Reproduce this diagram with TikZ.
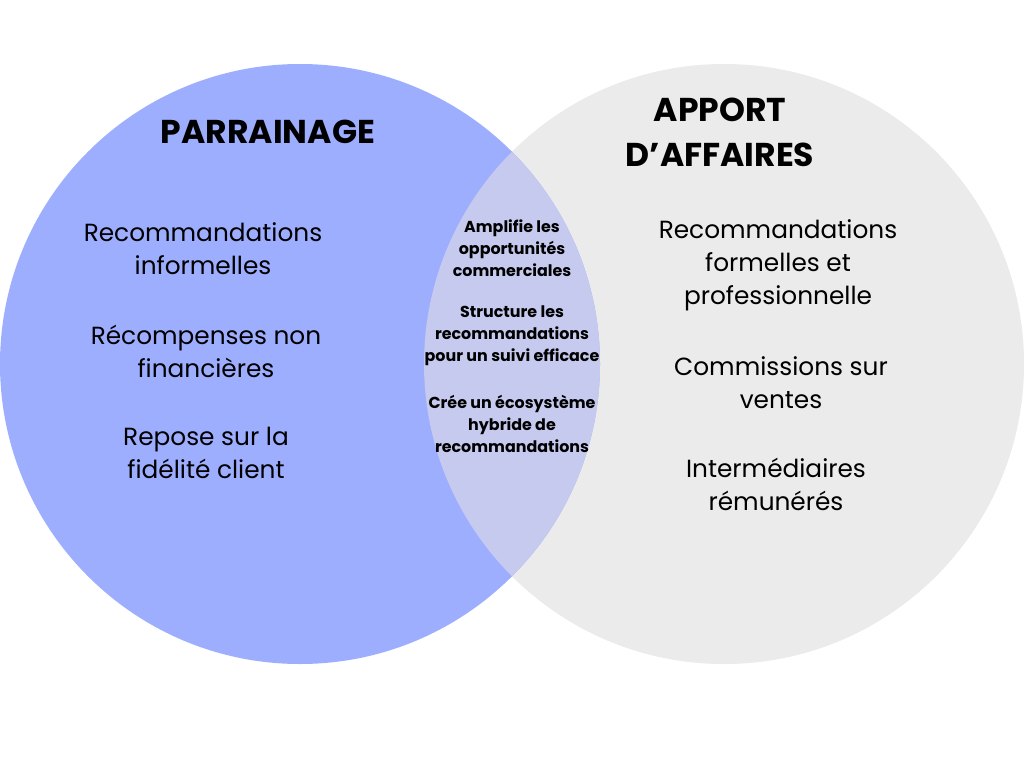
\documentclass[tikz,border=0pt]{standalone}
\usepackage{fontspec}
\setmainfont{Poppins}
\begin{document}
\begin{tikzpicture}[x=1pt,y=-1pt,
  lbl/.style={align=center,font=\fontsize{24.8}{33}\selectfont,inner sep=0},
  ttl/.style={align=center,font=\fontsize{33}{45}\selectfont\bfseries,inner sep=0},
  mid/.style={align=center,font=\fontsize{15.9}{22}\selectfont\bfseries,inner sep=0}]
\useasboundingbox (0,0) rectangle (1024,768);
\fill[white] (0,0) rectangle (1024,768);
\fill[fill={rgb,255:red,235;green,235;blue,235}] (724,364) circle (300);
\fill[fill={rgb,255:red,157;green,174;blue,255}] (300,364) circle (300);
\begin{scope}
\clip (724,364) circle (300);
\fill[fill={rgb,255:red,197;green,202;blue,238}] (300,364) circle (300);
\end{scope}
\node[ttl] (t1) at (268,132) {PARRAINAGE};
\node[ttl] (t2) at (720,132) {APPORT\\D’AFFAIRES};
\node[lbl] (l1) at (203,249) {Recommandations\\informelles};
\node[lbl] (l2) at (206,351) {Récompenses non\\financières};
\node[lbl] (l3) at (206,453) {Repose sur la\\fidélité client};
\node[lbl] (r1) at (778,265) {Recommandations\\formelles et\\professionnelle};
\node[lbl] (r2) at (781,383) {Commissions sur\\ventes};
\node[lbl] (r3) at (776,484) {Intermédiaires\\rémunérés};
\node[mid] (m1) at (512,248) {Amplifie les\\opportunités\\commerciales};
\node[mid] (m2) at (512,336) {Structure les\\recommandations\\pour un suivi efficace};
\node[mid] (m3) at (512,424) {Crée un écosystème\\hybride de\\recommandations};
\end{tikzpicture}
\end{document}
